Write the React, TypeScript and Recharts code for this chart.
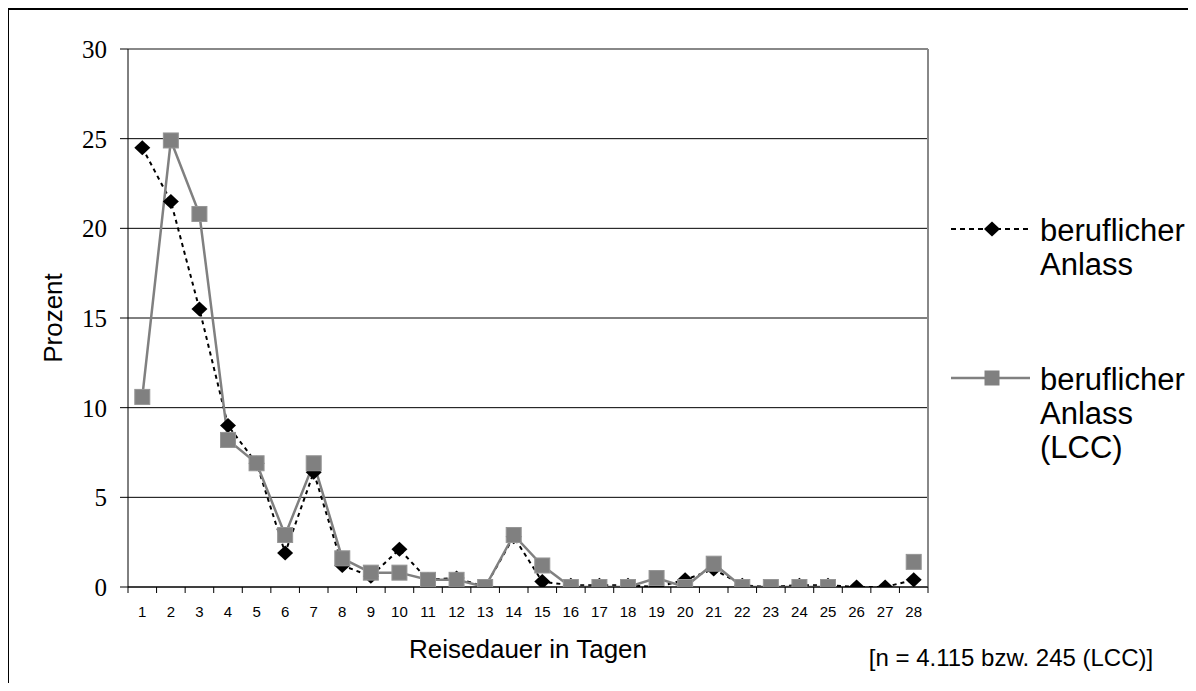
import React from 'react';
import { LineChart, Line, XAxis, YAxis, CartesianGrid, Legend, Label } from 'recharts';

const days = [1, 2, 3, 4, 5, 6, 7, 8, 9, 10, 11, 12, 13, 14, 15, 16, 17, 18, 19, 20, 21, 22, 23, 24, 25, 26, 27, 28];
const businessValues = [24.5, 21.5, 15.5, 9.0, 6.9, 1.9, 6.4, 1.2, 0.6, 2.1, 0.4, 0.5, 0.0, 2.8, 0.3, 0.1, 0.1, 0.1, 0.0, 0.4, 1.0, 0.1, 0.0, 0.1, 0.1, 0.0, 0.0, 0.4];
const lccValues: (number | null)[] = [10.6, 24.9, 20.8, 8.2, 6.9, 2.9, 6.9, 1.6, 0.8, 0.8, 0.4, 0.4, 0.0, 2.9, 1.2, 0.0, 0.0, 0.0, 0.5, 0.0, 1.3, 0.0, 0.0, 0.0, 0.0, null, null, 1.4];
const yTicks = [0, 5, 10, 15, 20, 25, 30];
const seriesNames = ['beruflicher Anlass', 'beruflicher Anlass (LCC)'];
const xTitle = 'Reisedauer in Tagen';
const yTitle = 'Prozent';
const noteText = '[n = 4.115 bzw. 245 (LCC)]';

const data = days.map((d, i) => ({ day: d, business: businessValues[i], lcc: lccValues[i] }));

const CHART_W = 1187;
const CHART_H = 673;
const MARGIN = { top: 39, right: 268, left: 0, bottom: 0 };
const Y_AXIS_W = 119;
const X_AXIS_H = 96;
const PLOT_W = CHART_W - MARGIN.right - MARGIN.left - Y_AXIS_W;
const BAND = PLOT_W / days.length;
const PLOT_RIGHT = MARGIN.left + Y_AXIS_W + PLOT_W;

const SANS = '"Liberation Sans", Arial, sans-serif';
const SERIF = '"Liberation Serif", "Times New Roman", serif';
const GRAY = '#808080';

const XTick = (props: any) => {
  const { x, y, payload, index } = props;
  const half = BAND / 2;
  return (
    <g>
      <line x1={x - half} x2={x - half} y1={y} y2={y + 6} stroke="#000" strokeWidth={1} />
      {index === days.length - 1 && (
        <line x1={x + half} x2={x + half} y1={y} y2={y + 6} stroke="#000" strokeWidth={1} />
      )}
      <text x={x} y={y + 30} textAnchor="middle" fontFamily={SANS} fontSize={15} fill="#000">
        {payload.value}
      </text>
    </g>
  );
};

const Diamond = (props: any) => {
  const { cx, cy, index } = props;
  if (cx == null || cy == null || props.value == null) return <g key={`d-${index}`} />;
  return (
    <path
      key={`d-${index}`}
      d={`M${cx},${cy - 7.5} L${cx + 8},${cy} L${cx},${cy + 7.5} L${cx - 8},${cy} Z`}
      fill="#000"
    />
  );
};

const Square = (props: any) => {
  const { cx, cy, index } = props;
  if (cx == null || cy == null || props.value == null) return <g key={`s-${index}`} />;
  return <rect key={`s-${index}`} x={cx - 7.5} y={cy - 7.5} width={15} height={15} fill={GRAY} stroke="#959595" strokeWidth={1} />;
};

const LegendContent = () => {
  const textStyle: React.CSSProperties = {
    position: 'absolute',
    left: 89,
    fontFamily: SANS,
    fontSize: 31,
    lineHeight: '34px',
    color: '#000',
    whiteSpace: 'nowrap',
  };
  return (
    <div style={{ position: 'relative', width: 240, height: 300 }}>
      <svg style={{ position: 'absolute', left: 0, top: 0 }} width={82} height={30}>
        <line x1={0} x2={79} y1={15} y2={15} stroke="#000" strokeWidth={2} strokeDasharray="5 4" />
        <path d="M41,7.5 L49,15 L41,22.5 L33,15 Z" fill="#000" />
      </svg>
      <div style={{ ...textStyle, top: 0 }}>
        beruflicher
        <br />
        Anlass
      </div>
      <svg style={{ position: 'absolute', left: 0, top: 149 }} width={82} height={30}>
        <line x1={0} x2={79} y1={15} y2={15} stroke={GRAY} strokeWidth={2.5} />
        <rect x={33.5} y={7.5} width={15} height={15} fill={GRAY} />
      </svg>
      <div style={{ ...textStyle, top: 149 }}>
        beruflicher
        <br />
        Anlass
        <br />
        (LCC)
      </div>
    </div>
  );
};

export default function App() {
  return (
    <div
      style={{
        position: 'relative',
        width: 1188,
        height: 675,
        borderTop: '2px solid #000',
        borderLeft: '1px solid #000',
        boxSizing: 'border-box',
        overflow: 'hidden',
        background: '#fff',
      }}
    >
      <LineChart width={CHART_W} height={CHART_H} data={data} margin={MARGIN}>
        <CartesianGrid horizontal={true} vertical={false} stroke="#000" strokeWidth={1} />
        <CartesianGrid
          horizontal={true}
          vertical={true}
          horizontalPoints={[MARGIN.top]}
          verticalPoints={[PLOT_RIGHT]}
          stroke="#888"
          strokeWidth={2}
        />
        <XAxis
          dataKey="day"
          type="category"
          interval={0}
          height={X_AXIS_H}
          padding={{ left: BAND / 2, right: BAND / 2 }}
          axisLine={{ stroke: '#000', strokeWidth: 1 }}
          tickLine={false}
          tickSize={0}
          tickMargin={0}
          tick={<XTick />}
        >
          <Label
            content={(p: any) => {
              const vb = p.viewBox || { x: 0, y: 0, width: 0 };
              return (
                <text x={MARGIN.left + Y_AXIS_W + PLOT_W / 2} y={vb.y + 71} textAnchor="middle" fontFamily={SANS} fontSize={26} fill="#000">
                  {xTitle}
                </text>
              );
            }}
          />
          <Label
            content={(p: any) => {
              const vb = p.viewBox || { x: 0, y: 0, width: 0 };
              return (
                <text x={MARGIN.left + Y_AXIS_W + 883} y={vb.y + 79} textAnchor="middle" fontFamily={SANS} fontSize={24} fill="#000">
                  {noteText}
                </text>
              );
            }}
          />
        </XAxis>
        <YAxis
          domain={[0, 30]}
          ticks={yTicks}
          width={Y_AXIS_W}
          axisLine={{ stroke: '#000', strokeWidth: 1 }}
          tickLine={{ stroke: '#000', strokeWidth: 1 }}
          tickSize={8}
          tickMargin={13}
          tick={{ fontFamily: SERIF, fontSize: 25, fill: '#000' }}
          allowDataOverflow={true}
        >
          <Label
            content={(p: any) => {
              const vb = p.viewBox || { x: 0, y: 0, height: 0 };
              const cx = vb.x + 53;
              const cy = vb.y + vb.height / 2;
              return (
                <text x={cx} y={cy} transform={`rotate(-90, ${cx}, ${cy})`} textAnchor="middle" fontFamily={SANS} fontSize={26} fill="#000">
                  {yTitle}
                </text>
              );
            }}
          />
        </YAxis>
        <Legend
          layout="vertical"
          align="center"
          verticalAlign="middle"
          content={<LegendContent />}
          wrapperStyle={{ position: 'absolute', left: 942, top: 204, width: 240, height: 300 }}
        />
        <Line
          name={seriesNames[0]}
          dataKey="business"
          type="linear"
          stroke="#000"
          strokeWidth={2}
          strokeDasharray="4 4"
          dot={Diamond}
          activeDot={false}
          isAnimationActive={false}
        />
        <Line
          name={seriesNames[1]}
          dataKey="lcc"
          type="linear"
          stroke={GRAY}
          strokeWidth={2.5}
          dot={Square}
          activeDot={false}
          connectNulls={false}
          isAnimationActive={false}
        />
      </LineChart>
    </div>
  );
}
